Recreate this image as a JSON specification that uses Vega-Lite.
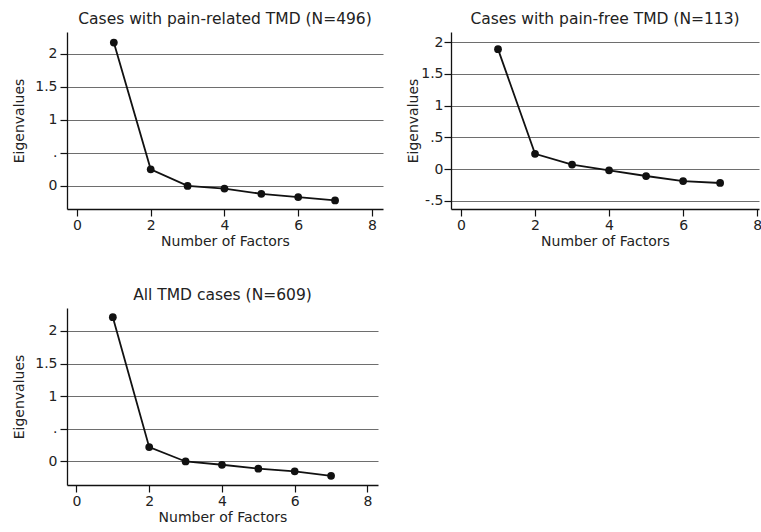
{
  "$schema": "https://vega.github.io/schema/vega-lite/v6.json",
  "padding": {"left": 12, "top": 11, "right": 0, "bottom": 0},
  "background": "white",
  "config": {
    "font": "DejaVu Sans",
    "view": {"stroke": null},
    "axis": {
      "domainColor": "#111", "domainWidth": 1.3,
      "tickColor": "#111", "tickWidth": 1.2, "tickSize": 7,
      "labelFont": "DejaVu Sans", "titleFont": "DejaVu Sans",
      "labelFontSize": 14, "titleFontSize": 14,
      "labelColor": "#222", "titleColor": "#222", "titleFontWeight": "normal"
    },
    "axisX": {"grid": false, "labelPadding": 2, "titlePadding": 2},
    "axisY": {"grid": true, "gridColor": "#6e6e6e", "gridWidth": 1.2, "gridOpacity": 1, "labelPadding": 3, "titlePadding": 8},
    "title": {"fontSize": 15.5, "fontWeight": "normal", "color": "#222", "offset": 5, "font": "DejaVu Sans"}
  },
  "datasets": {
    "scree": [
      {"panel": "A", "factor": 1, "eigen": 2.17},
      {"panel": "A", "factor": 2, "eigen": 0.25},
      {"panel": "A", "factor": 3, "eigen": 0.0},
      {"panel": "A", "factor": 4, "eigen": -0.04},
      {"panel": "A", "factor": 5, "eigen": -0.12},
      {"panel": "A", "factor": 6, "eigen": -0.17},
      {"panel": "A", "factor": 7, "eigen": -0.22},
      {"panel": "B", "factor": 1, "eigen": 1.89},
      {"panel": "B", "factor": 2, "eigen": 0.24},
      {"panel": "B", "factor": 3, "eigen": 0.07},
      {"panel": "B", "factor": 4, "eigen": -0.02},
      {"panel": "B", "factor": 5, "eigen": -0.11},
      {"panel": "B", "factor": 6, "eigen": -0.19},
      {"panel": "B", "factor": 7, "eigen": -0.22},
      {"panel": "C", "factor": 1, "eigen": 2.21},
      {"panel": "C", "factor": 2, "eigen": 0.22},
      {"panel": "C", "factor": 3, "eigen": 0.0},
      {"panel": "C", "factor": 4, "eigen": -0.05},
      {"panel": "C", "factor": 5, "eigen": -0.11},
      {"panel": "C", "factor": 6, "eigen": -0.15},
      {"panel": "C", "factor": 7, "eigen": -0.22}
    ]
  },
  "vconcat": [
    {
      "hconcat": [
        {
          "width": 316, "height": 177,
          "title": "Cases with pain-related TMD (N=496)",
          "data": {"name": "scree"},
          "transform": [{"filter": "datum.panel === 'A'"}],
          "encoding": {
            "x": {"field": "factor", "type": "quantitative", "scale": {"domain": [-0.27, 8.3], "nice": false, "zero": false}, "axis": {"title": "Number of Factors", "values": [0, 2, 4, 6, 8], "format": "~g"}},
            "y": {"field": "eigen", "type": "quantitative", "scale": {"domain": [-0.35, 2.33], "nice": false, "zero": false}, "axis": {"title": "Eigenvalues", "values": [0, 0.5, 1, 1.5, 2], "labelExpr": "datum.value == 0.5 ? '.' : format(datum.value, '~g')"}}
          },
          "layer": [
            {"mark": {"type": "line", "color": "#111", "strokeWidth": 1.8}},
            {"mark": {"type": "point", "filled": true, "color": "#111", "size": 60, "opacity": 1}}
          ]
        },
        {
          "width": 308, "height": 177,
          "title": "Cases with pain-free TMD (N=113)",
          "data": {"name": "scree"},
          "transform": [{"filter": "datum.panel === 'B'"}],
          "encoding": {
            "x": {"field": "factor", "type": "quantitative", "scale": {"domain": [-0.27, 8.05], "nice": false, "zero": false}, "axis": {"title": "Number of Factors", "values": [0, 2, 4, 6, 8], "format": "~g"}},
            "y": {"field": "eigen", "type": "quantitative", "scale": {"domain": [-0.63, 2.16], "nice": false, "zero": false}, "axis": {"title": "Eigenvalues", "values": [-0.5, 0, 0.5, 1, 1.5, 2], "labelExpr": "datum.value == 0.5 ? '.5' : datum.value == -0.5 ? '-.5' : format(datum.value, '~g')", "labelPadding": 1, "titlePadding": 0}}
          },
          "layer": [
            {"mark": {"type": "line", "color": "#111", "strokeWidth": 1.8}},
            {"mark": {"type": "point", "filled": true, "color": "#111", "size": 60, "opacity": 1}}
          ]
        }
      ],
      "spacing": 23
    },
    {
      "width": 311, "height": 177,
      "title": "All TMD cases (N=609)",
      "data": {"name": "scree"},
      "transform": [{"filter": "datum.panel === 'C'"}],
      "encoding": {
        "x": {"field": "factor", "type": "quantitative", "scale": {"domain": [-0.26, 8.29], "nice": false, "zero": false}, "axis": {"title": "Number of Factors", "values": [0, 2, 4, 6, 8], "format": "~g"}},
        "y": {"field": "eigen", "type": "quantitative", "scale": {"domain": [-0.36, 2.35], "nice": false, "zero": false}, "axis": {"title": "Eigenvalues", "values": [0, 0.5, 1, 1.5, 2], "labelExpr": "datum.value == 0.5 ? '.' : format(datum.value, '~g')"}}
      },
      "layer": [
        {"mark": {"type": "line", "color": "#111", "strokeWidth": 1.8}},
        {"mark": {"type": "point", "filled": true, "color": "#111", "size": 60, "opacity": 1}}
      ]
    }
  ],
  "spacing": 39
}
